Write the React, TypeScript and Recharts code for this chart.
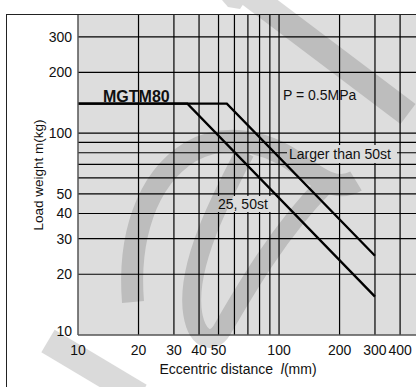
import React from 'react';
import { LineChart, Line, XAxis, YAxis, ReferenceLine, CartesianGrid } from 'recharts';

const xGridValues = [20, 30, 40, 50, 60, 70, 80, 90, 100, 200, 300, 400];
const yGridValues = [20, 30, 40, 50, 60, 70, 80, 90, 100, 200, 300];
const xTickLabels = [10, 20, 30, 40, 50, 100, 200, 300, 400];
const yTickLabels = [10, 20, 30, 40, 50, 100, 200, 300];

const series25_50st = [
  { x: 10, y: 140 },
  { x: 35, y: 140 },
  { x: 300, y: 15.5 },
];
const seriesLarger50st = [
  { x: 10, y: 140 },
  { x: 55, y: 140 },
  { x: 300, y: 24.7 },
];

const FONT = '"Liberation Sans", Arial, Helvetica, sans-serif';
const PLOT_BG = '#dddddd';

const XTick = (props: any) => {
  const { x, y, payload } = props;
  return (
    <text x={x} y={y + 20} textAnchor="middle" fontSize={14} fontFamily={FONT} fill="#111">
      {payload.value}
    </text>
  );
};

const YTick = (props: any) => {
  const { x, y, payload } = props;
  const dy = payload.value === 10 ? 0.5 : 5;
  return (
    <text x={x} y={y + dy} textAnchor="end" fontSize={14} fontFamily={FONT} fill="#111">
      {payload.value}
    </text>
  );
};

export default function App() {
  return (
    <div style={{ position: 'absolute', left: 0, top: 0, width: 416, height: 387, overflow: 'hidden', background: '#fff' }}>
      <div style={{ position: 'absolute', left: 6, top: 14, width: 460, height: 420, border: '1px solid #222', boxSizing: 'border-box' }} />
      <div style={{ position: 'absolute', left: 0, top: 0 }}>
        <LineChart width={424} height={387} margin={{ top: 15, right: 0, bottom: 0, left: 0 }}>
          <CartesianGrid horizontal={false} vertical={false} fill={PLOT_BG} />
          <XAxis
            type="number"
            dataKey="x"
            scale="log"
            domain={[10, 526]}
            allowDataOverflow
            ticks={xTickLabels}
            height={52}
            tickSize={0}
            tickMargin={0}
            tickLine={false}
            axisLine={{ stroke: '#555', strokeWidth: 1.5 }}
            tick={<XTick />}
            interval={0}
          />
          <YAxis
            type="number"
            dataKey="y"
            scale="log"
            domain={[10, 385]}
            allowDataOverflow
            ticks={yTickLabels}
            width={78}
            tickSize={0}
            tickMargin={6}
            tickLine={false}
            axisLine={{ stroke: '#555', strokeWidth: 1.5 }}
            tick={<YTick />}
            interval={0}
          />
          {xGridValues.map((v) => (
            <ReferenceLine key={'x' + v} x={v} stroke="#000" strokeWidth={1.2} ifOverflow="hidden" />
          ))}
          {yGridValues.map((v) => (
            <ReferenceLine key={'y' + v} y={v} stroke="#000" strokeWidth={1.2} ifOverflow="hidden" />
          ))}
          <Line data={seriesLarger50st} dataKey="y" stroke="#000" strokeWidth={2.3} dot={false} isAnimationActive={false} type="linear" />
          <Line data={series25_50st} dataKey="y" stroke="#000" strokeWidth={2.3} dot={false} isAnimationActive={false} type="linear" />
        </LineChart>
      </div>
      <svg width={416} height={387} style={{ position: 'absolute', left: 0, top: 0, pointerEvents: 'none' }}>
        <g fontFamily={FONT} fill="#111">
          <rect x={287} y={145} width={110} height={18} fill={PLOT_BG} />
          <rect x={215} y={196} width={57} height={16} fill={PLOT_BG} />
          <text x={103} y={101.5} fontSize={16} fontWeight="bold">MGTM80</text>
          <text x={283} y={100} fontSize={14}>P = 0.5MPa</text>
          <text x={289} y={158.5} fontSize={14}>Larger than 50st</text>
          <text x={218} y={208.5} fontSize={14}>25, 50st</text>
          <text x={238} y={374} fontSize={14} textAnchor="middle">
            Eccentric distance{'\u00a0\u00a0'}<tspan fontStyle="italic">l</tspan>(mm)
          </text>
          <text x={43} y={175} fontSize={13.5} textAnchor="middle" transform="rotate(-90, 43, 175)">
            Load weight m(kg)
          </text>
        </g>
        <g opacity={0.14}>
          <g fill="none" stroke="#000" strokeLinecap="butt">
            <line x1={245} y1={-9} x2={408} y2={114} strokeWidth={25} />
            <line x1={48} y1={341} x2={140} y2={396} strokeWidth={26} />
            <path d="M133 302 C128 240,145 180,190 152 C222 134,262 138,297 163 C320 180,338 192,356 181" strokeWidth={22} />
            <path d="M245 152 C220 200,188 262,192 308 C195 340,212 346,222 330 C245 290,280 230,325 185" strokeWidth={19} />
          </g>
          <polygon points="222,0 246,0 240,9 228,7" fill="#000" />
        </g>
      </svg>
    </div>
  );
}
